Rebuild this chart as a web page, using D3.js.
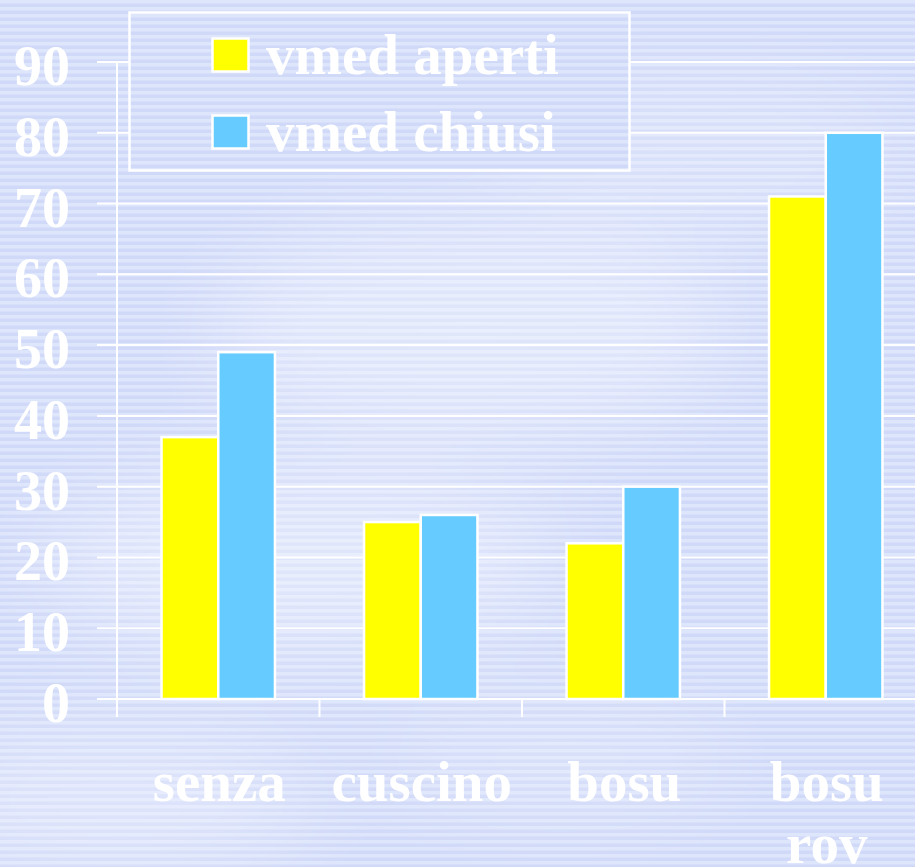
<!DOCTYPE html>
<html>
<head>
<meta charset="utf-8">
<script src="https://cdn.jsdelivr.net/npm/d3@7/dist/d3.min.js"></script>
<style>
  html, body { margin: 0; padding: 0; background: #d6dffa; }
  svg { display: block; }
</style>
</head>
<body>
<svg id="chart" width="915" height="867"></svg>
<script>
const categories = ["senza", "cuscino", "bosu", "bosu\nrov"];
const seriesNames = ["vmed aperti", "vmed chiusi"];
const vmedAperti = [37, 25, 22, 71];
const vmedChiusi = [49, 26, 30, 80];
const yTicks = [0, 10, 20, 30, 40, 50, 60, 70, 80, 90];
const colors = ["#FFFF00", "#66CCFF"];

const W = 915, H = 867;
const svg = d3.select("#chart");
const FONT = "'Liberation Serif', 'Times New Roman', serif";

// ---- background ----
const defs = svg.append("defs");
const pat = defs.append("pattern").attr("id", "stripes")
  .attr("patternUnits", "userSpaceOnUse").attr("width", 8).attr("height", 7);
pat.append("rect").attr("width", 8).attr("height", 7).attr("fill", "#d0d9f8");
pat.append("rect").attr("width", 8).attr("height", 3.5).attr("fill", "#dee6fc");

const blur = defs.append("filter").attr("id", "cloud")
  .attr("x", "-50%").attr("y", "-50%").attr("width", "200%").attr("height", "200%");
blur.append("feGaussianBlur").attr("stdDeviation", 45);

svg.append("rect").attr("width", W).attr("height", H).attr("fill", "url(#stripes)");
const clouds = [
  {cx: 470, cy: 330, rx: 260, ry: 110, o: 0.35},
  {cx: 300, cy: 560, rx: 260, ry: 90, o: 0.35},
  {cx: 120, cy: 800, rx: 200, ry: 70, o: 0.3},
  {cx: 700, cy: 150, rx: 200, ry: 80, o: 0.2},
  {cx: 560, cy: 760, rx: 180, ry: 60, o: 0.2}
];
svg.append("g").attr("filter", "url(#cloud)")
  .selectAll("ellipse").data(clouds).join("ellipse")
  .attr("cx", d => d.cx).attr("cy", d => d.cy)
  .attr("rx", d => d.rx).attr("ry", d => d.ry)
  .attr("fill", "#ffffff").attr("opacity", d => d.o);

// ---- scales ----
const x0 = d3.scaleBand().domain(categories).range([117, 927]).padding(0);
const bw = x0.bandwidth();
const x1 = d3.scaleBand().domain(seriesNames).range([bw * 0.22, bw * 0.78]).padding(0);
const y = d3.scaleLinear().domain([0, 90]).range([699, 62]);

// ---- grid lines ----
svg.append("g").selectAll("line").data(yTicks).join("line")
  .attr("x1", 97).attr("x2", W)
  .attr("y1", d => y(d)).attr("y2", d => y(d))
  .attr("stroke", "#ffffff").attr("stroke-width", 2);

// y axis line
svg.append("line").attr("x1", x0.range()[0]).attr("x2", x0.range()[0])
  .attr("y1", y(90)).attr("y2", y(0) + 18)
  .attr("stroke", "#ffffff").attr("stroke-width", 2);

// category ticks at band boundaries
svg.append("g").selectAll("line").data(categories.slice(1)).join("line")
  .attr("x1", d => x0(d)).attr("x2", d => x0(d))
  .attr("y1", y(0)).attr("y2", y(0) + 18)
  .attr("stroke", "#ffffff").attr("stroke-width", 2);

// y tick labels
svg.append("g").selectAll("text").data(yTicks).join("text")
  .attr("x", 70).attr("y", d => y(d) + 23)
  .attr("text-anchor", "end")
  .attr("font-family", FONT).attr("font-weight", "bold").attr("font-size", 56)
  .attr("fill", "#ffffff").text(d => d);

// ---- bars ----
const rows = categories.map((c, i) => ({cat: c, vals: [vmedAperti[i], vmedChiusi[i]]}));
const groups = svg.append("g").selectAll("g").data(rows).join("g")
  .attr("transform", d => `translate(${x0(d.cat)},0)`);
groups.selectAll("rect").data(d => d.vals.map((v, j) => ({s: seriesNames[j], v, j})))
  .join("rect")
  .attr("x", d => x1(d.s)).attr("width", x1.bandwidth())
  .attr("y", d => y(d.v)).attr("height", d => y(0) - y(d.v))
  .attr("fill", d => colors[d.j])
  .attr("stroke", "#ffffff").attr("stroke-width", 2.5);

// category labels
const catLabels = svg.append("g").selectAll("text").data(categories).join("text")
  .attr("x", d => x0(d) + bw / 2 + 1)
  .attr("y", 801)
  .attr("text-anchor", "middle")
  .attr("font-family", FONT).attr("font-weight", "bold").attr("font-size", 57)
  .attr("fill", "#ffffff");
catLabels.each(function(d) {
  const lines = d.split("\n");
  const t = d3.select(this);
  lines.forEach((ln, i) => {
    t.append("tspan").attr("x", x0(d) + bw / 2 + 1).attr("dy", i === 0 ? 0 : 62).text(ln);
  });
});

// ---- legend ----
const lg = svg.append("g");
lg.append("rect").attr("x", 129.5).attr("y", 12.5).attr("width", 500).attr("height", 158)
  .attr("fill", "url(#stripes)").attr("stroke", "#ffffff").attr("stroke-width", 2.5);
const items = lg.selectAll("g").data(seriesNames).join("g")
  .attr("transform", (d, i) => `translate(0, ${i * 77})`);
items.append("rect").attr("x", 212.5).attr("y", 38.5).attr("width", 36).attr("height", 33)
  .attr("fill", (d, i) => colors[i]).attr("stroke", "#ffffff").attr("stroke-width", 2.5);
items.append("text").attr("x", 266).attr("y", 74)
  .attr("font-family", FONT).attr("font-weight", "bold").attr("font-size", 57)
  .attr("fill", "#ffffff").text(d => d);
</script>
</body>
</html>
